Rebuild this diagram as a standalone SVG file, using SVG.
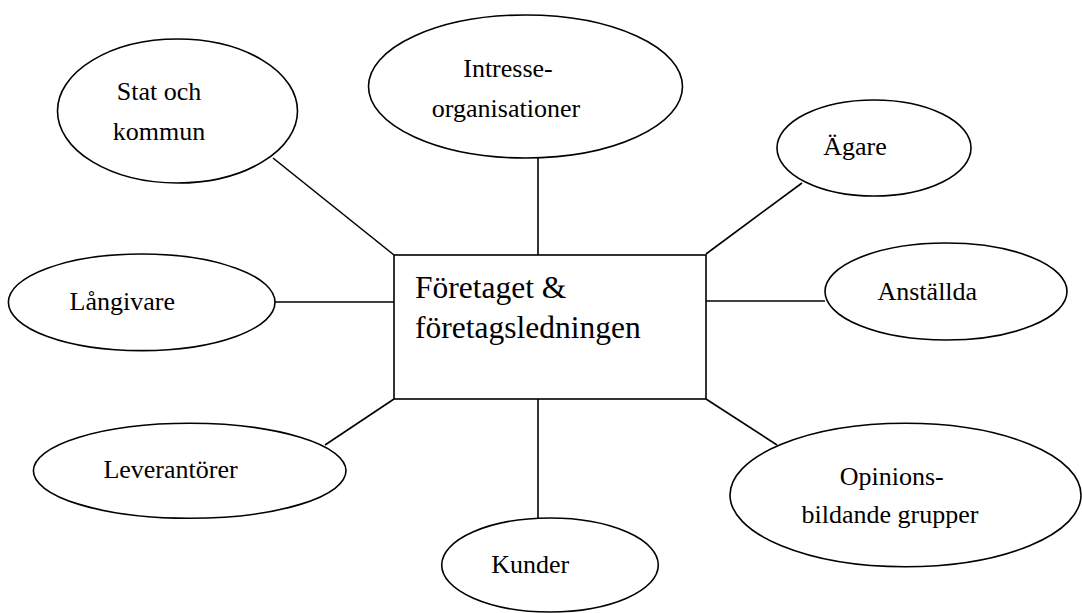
<svg xmlns="http://www.w3.org/2000/svg" width="1082" height="613" viewBox="0 0 1082 613">
<style>
.shape{fill:#fff;stroke:#000;stroke-width:1.6}
.conn line{stroke:#000;stroke-width:1.6}
.lbl{font-size:26px;text-anchor:middle}
.main{font-size:31.5px}
</style>
<rect width="1082" height="613" fill="#fff"/>
<g id="connectors" class="conn">
<line x1="273" y1="158" x2="394" y2="255"/>
<line x1="538" y1="158" x2="538" y2="255"/>
<line x1="802" y1="183" x2="706" y2="254"/>
<line x1="275" y1="302" x2="394" y2="302"/>
<line x1="706" y1="301" x2="825" y2="301"/>
<line x1="394" y1="399" x2="325" y2="445"/>
<line x1="538" y1="399" x2="538" y2="518"/>
<line x1="706" y1="399" x2="777" y2="445"/>
</g>
<g font-family="Liberation Serif, DejaVu Serif, serif" fill="#000">
<g id="node-center">
<rect class="shape" x="394" y="255" width="312" height="144"/>
<text class="main" x="415" y="298">Företaget &amp;</text>
<text class="main" x="415" y="338">företagsledningen</text>
</g>
<g id="node-stat">
<ellipse class="shape" cx="177.5" cy="111" rx="120" ry="72"/>
<text class="lbl" x="159" y="100">Stat och</text>
<text class="lbl" x="159" y="140">kommun</text>
</g>
<g id="node-intresse">
<ellipse class="shape" cx="525.5" cy="86.5" rx="157" ry="71.5"/>
<text class="lbl" x="508" y="77">Intresse-</text>
<text class="lbl" x="506" y="117">organisationer</text>
</g>
<g id="node-agare">
<ellipse class="shape" cx="874" cy="148" rx="97" ry="48"/>
<text class="lbl" x="855" y="155">Ägare</text>
</g>
<g id="node-langivare">
<ellipse class="shape" cx="141.7" cy="302.3" rx="133.3" ry="48.3"/>
<text class="lbl" x="122.3" y="310">Långivare</text>
</g>
<g id="node-anstallda">
<ellipse class="shape" cx="946" cy="291.5" rx="121" ry="48.5"/>
<text class="lbl" x="927.3" y="300">Anställda</text>
</g>
<g id="node-leverantorer">
<ellipse class="shape" cx="189.7" cy="470.8" rx="156.3" ry="47.5"/>
<text class="lbl" x="170.5" y="478">Leverantörer</text>
</g>
<g id="node-kunder">
<ellipse class="shape" cx="550" cy="565" rx="108.3" ry="47"/>
<text class="lbl" x="530.3" y="573">Kunder</text>
</g>
<g id="node-opinion">
<ellipse class="shape" cx="905.5" cy="495" rx="175.5" ry="71.7"/>
<text class="lbl" x="891.7" y="485">Opinions-</text>
<text class="lbl" x="890" y="523">bildande grupper</text>
</g>
</g>
</svg>
